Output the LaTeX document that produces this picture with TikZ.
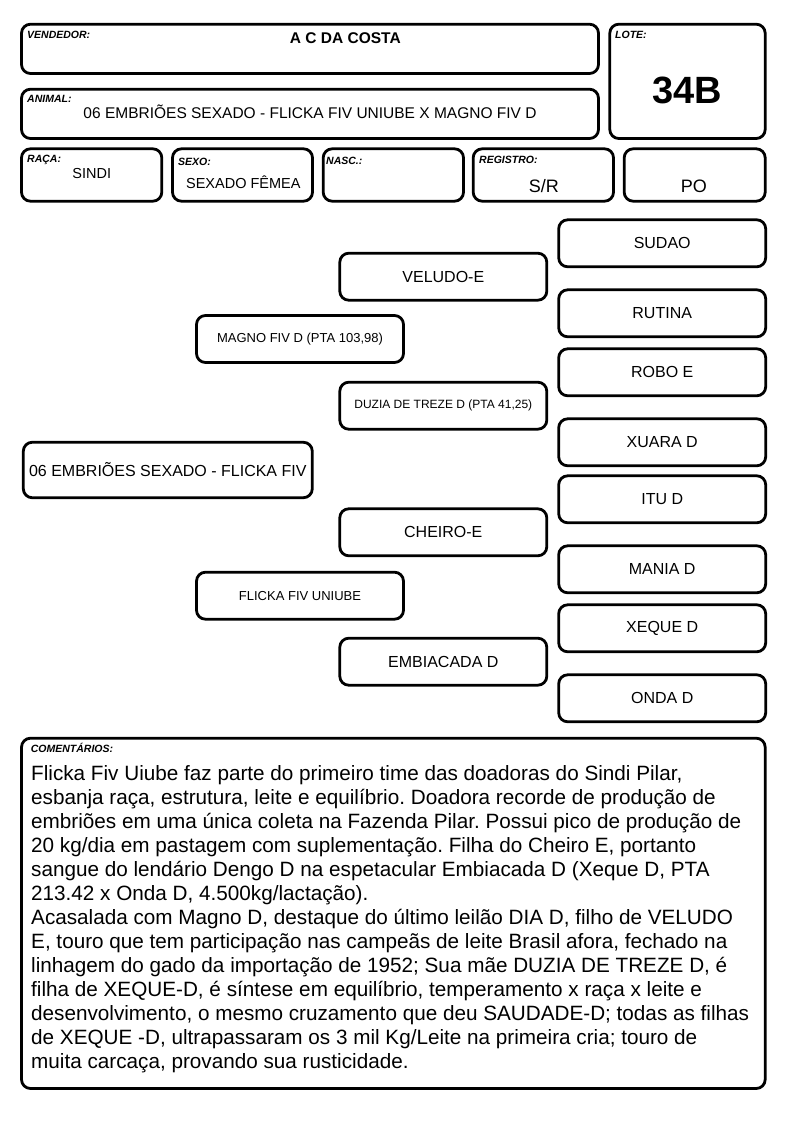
\documentclass[tikz,border=0pt]{standalone}
\usepackage{fontspec}
\setmainfont{Liberation Sans}
\usetikzlibrary{fit}
\newcommand\fsz[2]{\fontsize{#1}{#2}\selectfont}
\frenchspacing
\begin{document}
\frenchspacing
\begin{tikzpicture}[x=1pt,y=-1pt,
  box/.style={draw=black, line width=2.8pt, rounded corners=9pt, inner sep=0pt},
  pbox/.style={box, minimum width=207pt, minimum height=47pt, font=\fsz{16}{19}},
  lab/.style={inner sep=0pt, anchor=base west, font=\fsz{10.5}{12}\bfseries\itshape},
  val/.style={inner sep=0pt, anchor=base, font=\fsz{#1}{#1}},
  valb/.style={inner sep=0pt, anchor=base, font=\fsz{#1}{#1}\bfseries}]
\useasboundingbox[fill=white] (0,0) rectangle (794,1123);

% header boxes
\node[box, fit={(21.5,24.2)(598.5,73.5)}] (vend) {};
\node[box, fit={(21.5,89.2)(598.5,138.5)}] (anim) {};
\node[box, fit={(609.8,24.2)(765.2,138.5)}] (lote) {};
\node[box, fit={(21.5,148.8)(161.8,201.2)}] (raca) {};
\node[box, fit={(172.5,148.8)(312.5,201.2)}] (sexo) {};
\node[box, fit={(323.2,148.8)(463.5,201.2)}] (nasc) {};
\node[box, fit={(473.2,148.8)(613.5,201.2)}] (regi) {};
\node[box, fit={(624.2,148.8)(765.2,201.2)}] (po) {};

\node[lab] (vendL) at (27,39) {VENDEDOR:};
\node[lab] (animL) at (27,103) {ANIMAL:};
\node[lab] (loteL) at (615,38.3) {LOTE:};
\node[lab] (racaL) at (27,162.7) {RAÇA:};
\node[lab] (sexoL) at (178,165.3) {SEXO:};
\node[lab] (nascL) at (326,165) {NASC.:};
\node[lab] (regiL) at (479,164) {REGISTRO:};

\node[valb=15.5] (vendV) at (345.3,43.3) {A C DA COSTA};
\node[val=15.5] (animV) at (310,119) {06 EMBRIÕES SEXADO - FLICKA FIV UNIUBE X MAGNO FIV D};
\node[valb=38] (loteV) at (687,103.3) {34B};
\node[val=14.5] (racaV) at (91.7,178.3) {SINDI};
\node[val=14.5] (sexoV) at (243.3,189) {SEXADO FÊMEA};
\node[val=18] (regiV) at (543.8,192.7) {S/R};
\node[val=18] (poV) at (693.8,192.7) {PO};

% pedigree
\node[box, minimum width=289pt, minimum height=55.5pt, font=\fsz{16}{19}] (anim2) at (167.8,470) {06 EMBRIÕES SEXADO - FLICKA FIV};
\node[pbox, font=\fsz{13}{15}] (magno) at (300,339) {MAGNO FIV D (PTA 103,98)};
\node[pbox, font=\fsz{13}{15}] (flicka) at (300,595.7) {FLICKA FIV UNIUBE};
\node[pbox] (veludo) at (443.3,276.7) {VELUDO-E};
\node[pbox, font=\fsz{12}{14}] (duzia) at (443.3,405.7) {DUZIA DE TREZE D (PTA 41,25)};
\node[pbox] (cheiro) at (443.3,532.3) {CHEIRO-E};
\node[pbox] (embia) at (443.3,661.7) {EMBIACADA D};
\node[pbox] (sudao) at (662.2,243.3) {SUDAO};
\node[pbox] (rutina) at (662.2,313.3) {RUTINA};
\node[pbox] (robo) at (662.2,372.3) {ROBO E};
\node[pbox] (xuara) at (662.2,442.3) {XUARA D};
\node[pbox] (itu) at (662.2,499.3) {ITU D};
\node[pbox] (mania) at (662.2,569.3) {MANIA D};
\node[pbox] (xeque) at (662.2,628.3) {XEQUE D};
\node[pbox] (onda) at (662.2,698.3) {ONDA D};

% comments
\node[box, fit={(21.5,738.2)(765.2,1088.5)}] (com) {};
\node[lab] (comL) at (30.7,752.7) {COMENTÁRIOS:};
\node[inner sep=0pt, anchor=base west, align=left, font=\fsz{20.7}{24}\frenchspacing] (comT) at (31,1068.3) {Flicka Fiv Uiube faz parte do primeiro time das doadoras do Sindi Pilar,\\
esbanja raça, estrutura, leite e equilíbrio. Doadora recorde de produção de\\
embriões em uma única coleta na Fazenda Pilar. Possui pico de produção de\\
20 kg/dia em pastagem com suplementação. Filha do Cheiro E, portanto\\
sangue do lendário Dengo D na espetacular Embiacada D (Xeque D, PTA\\
213.42 x Onda D, 4.500kg/lactação).\\
Acasalada com Magno D, destaque do último leilão DIA D, filho de VELUDO\\
E, touro que tem participação nas campeãs de leite Brasil afora, fechado na\\
linhagem do gado da importação de 1952; Sua mãe DUZIA DE TREZE D, é\\
filha de XEQUE-D, é síntese em equilíbrio, temperamento x raça x leite e\\
desenvolvimento, o mesmo cruzamento que deu SAUDADE-D; todas as filhas\\
de XEQUE -D, ultrapassaram os 3 mil Kg/Leite na primeira cria; touro de\\
muita carcaça, provando sua rusticidade.};
\end{tikzpicture}
\end{document}
